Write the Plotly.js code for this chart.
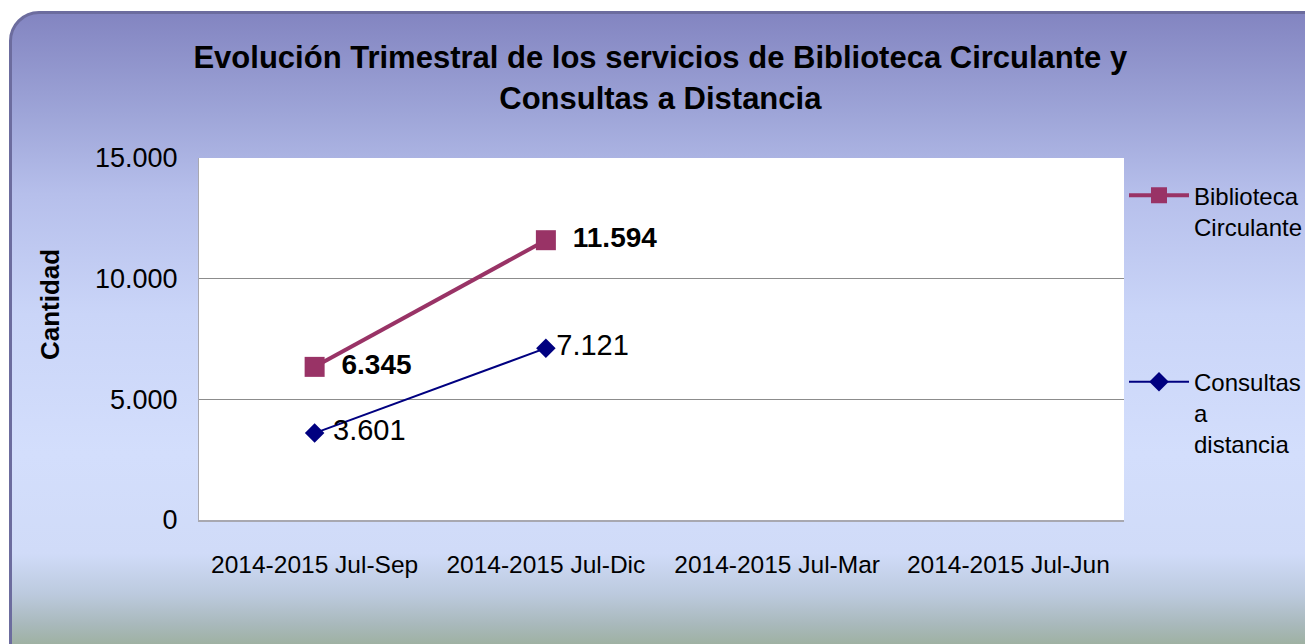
<!DOCTYPE html>
<html>
<head>
<meta charset="utf-8">
<script src="https://cdn.plot.ly/plotly-3.0.1.min.js"></script>
<style>
  html, body { margin: 0; padding: 0; width: 1305px; height: 644px; overflow: hidden; background: #ffffff; }
  #frame {
    position: absolute; left: 9px; top: 11px; width: 1330px; height: 680px;
    border: 3px solid #6c6c9e; border-radius: 30px; box-sizing: border-box;
    background: linear-gradient(to bottom, #8385c1 0px, #9ea5d8 100px, #b6bfeb 180px, #cad5f8 300px, #d3defc 440px, #d0dbf8 540px, #bccade 580px, #a9b9bc 610px, #9aad96 640px, #98ab92 680px);
  }
  #chart { position: absolute; left: 0; top: 0; width: 1305px; height: 644px; }
</style>
</head>
<body>
<div id="frame"></div>
<div id="chart"></div>
<script>
const categories = ["2014-2015 Jul-Sep", "2014-2015 Jul-Dic", "2014-2015 Jul-Mar", "2014-2015 Jul-Jun"];
const bibliotecaValues = [6345, 11594, null, null];
const consultasValues = [3601, 7121, null, null];
const yTickValues = [0, 5000, 10000, 15000];
const seriesNames = ["Biblioteca<br>Circulante", "Consultas<br>a<br>distancia"];
const yAxisTitle = "Cantidad";

const FONT = "'Liberation Sans', Arial, sans-serif";

const traces = [
  {
    x: categories, y: bibliotecaValues, name: seriesNames[0],
    type: "scatter", mode: "lines+markers+text",
    line: { color: "#993366", width: 4 },
    marker: { symbol: "square", size: 20, color: "#993366" },
    texttemplate: " \u2009%{y:,}", textposition: "middle right",
    textfont: { family: FONT, size: 28, color: "#000000", weight: "bold" },
    legendgroup: "a", cliponaxis: false
  },
  {
    x: categories, y: consultasValues, name: seriesNames[1],
    type: "scatter", mode: "lines+markers+text",
    line: { color: "#000080", width: 2 },
    marker: { symbol: "diamond", size: 15, color: "#000080" },
    texttemplate: [" %{y:,}", "%{y:,}"], textposition: "middle right",
    textfont: { family: FONT, size: 29, color: "#000000" },
    legendgroup: "b", cliponaxis: false
  }
];

const layout = {
  width: 1305, height: 644,
  paper_bgcolor: "rgba(0,0,0,0)",
  plot_bgcolor: "#ffffff",
  separators: ",.",
  font: { family: FONT, color: "#000000" },
  margin: { l: 199, r: 181, t: 158, b: 124, autoexpand: false },
  title: {
    text: "Evolución Trimestral de los servicios de Biblioteca Circulante y<br>Consultas a Distancia",
    font: { family: FONT, size: 31, color: "#000000", weight: "bold" },
    x: 0.506, xanchor: "center", y: 0.894, yanchor: "top"
  },
  xaxis: {
    type: "category", categoryorder: "array", categoryarray: categories,
    range: [-0.5, 3.5],
    showgrid: false, showline: true, linecolor: "#a8a8b0", linewidth: 2,
    ticks: "", ticklabelstandoff: 22,
    tickfont: { family: FONT, size: 24.5, color: "#000000" },
    zeroline: false, mirror: false
  },
  yaxis: {
    range: [0, 15000], tickvals: yTickValues, tickformat: ",d",
    showgrid: true, gridcolor: "#8c8c8c", gridwidth: 1,
    showline: true, linecolor: "#a8a8b0", linewidth: 1, mirror: false,
    ticks: "", ticklabelstandoff: 15,
    tickfont: { family: FONT, size: 27, color: "#000000" },
    zeroline: false
  },
  annotations: [
    {
      text: yAxisTitle, textangle: -90, showarrow: false,
      xref: "paper", yref: "paper", x: -0.161, y: 0.594,
      xanchor: "center", yanchor: "middle",
      font: { family: FONT, size: 26, color: "#000000", weight: "bold" }
    }
  ],
  showlegend: true,
  legend: {
    x: 1.0, xanchor: "left", xref: "paper",
    y: 0.958, yanchor: "top",
    bgcolor: "rgba(0,0,0,0)",
    font: { family: FONT, size: 24, color: "#000000" },
    traceorder: "grouped", tracegroupgap: 121, valign: "top",
    itemwidth: 60
  }
};

Plotly.newPlot("chart", traces, layout, { displayModeBar: false, staticPlot: true });
</script>
</body>
</html>
